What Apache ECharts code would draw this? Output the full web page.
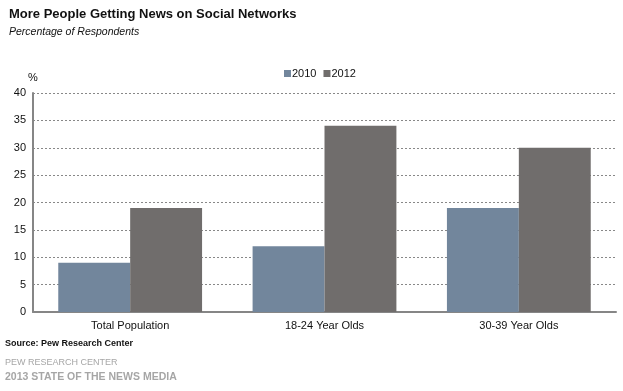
<!DOCTYPE html>
<html><head><meta charset="utf-8">
<script src="https://cdn.jsdelivr.net/npm/echarts@6/dist/echarts.min.js"></script>
<style>html,body{margin:0;padding:0;background:#fff}#c{width:623px;height:391px}</style>
</head><body><div id="c"></div>
<script>
const categories = ['Total Population', '18-24 Year Olds', '30-39 Year Olds'];
const values2010 = [9, 12, 19];
const values2012 = [19, 34, 30];
const seriesNames = ['2010', '2012'];
const yTicks = {min: 0, max: 40, interval: 5};

const F = '"Liberation Sans", Arial, sans-serif';
const chart = echarts.init(document.getElementById('c'), null, {renderer: 'canvas'});
chart.setOption({
  animation: false,
  backgroundColor: '#fff',
  title: [
    {text: 'More People Getting News on Social Networks', left: 4, top: 3,
     textStyle: {fontFamily: F, fontSize: 13, fontWeight: 'bold', color: '#111'}},
    {text: 'Percentage of Respondents', left: 4, top: 22,
     textStyle: {fontFamily: F, fontSize: 10.5, fontStyle: 'italic', fontWeight: 'normal', color: '#111'}}
  ],
  legend: {
    data: seriesNames, top: 63, left: 279, itemWidth: 7, itemHeight: 7, itemGap: 7,
    icon: 'rect', textStyle: {fontFamily: F, fontSize: 11, color: '#111', padding: [0,0,0,-4]}
  },
  grid: {left: 33, right: 7, top: 93, bottom: 79, containLabel: false},
  xAxis: {
    type: 'category', data: categories,
    axisLine: {lineStyle: {color: '#868686', width: 2}},
    axisTick: {show: false},
    axisLabel: {fontFamily: F, fontSize: 11, color: '#111', margin: 8}
  },
  yAxis: {
    type: 'value', min: yTicks.min, max: yTicks.max, interval: yTicks.interval,
    name: '%', nameLocation: 'end', nameGap: 10,
    nameTextStyle: {fontFamily: F, fontSize: 11, color: '#111', align: 'center'},
    axisLine: {show: true, lineStyle: {color: '#868686', width: 2}},
    axisTick: {show: false},
    axisLabel: {fontFamily: F, fontSize: 11, color: '#111', margin: 7},
    splitLine: {lineStyle: {color: '#888', type: [2, 2], width: 1}}
  },
  series: [
    {name: seriesNames[0], type: 'bar', data: values2010, barGap: '0%', barCategoryGap: '26%',
     itemStyle: {color: '#72869c'}},
    {name: seriesNames[1], type: 'bar', data: values2012, barGap: '0%', barCategoryGap: '26%',
     itemStyle: {color: '#706d6c'}}
  ],
  graphic: [
    {type: 'text', left: 5, top: 339, style: {text: 'Source: Pew Research Center', font: 'bold 9px ' + F, fill: '#111'}},
    {type: 'text', left: 5, top: 358, style: {text: 'PEW RESEARCH CENTER', font: '9px ' + F, fill: '#a6a6a6'}},
    {type: 'text', left: 5, top: 372, style: {text: '2013 STATE OF THE NEWS MEDIA', font: 'bold 10.5px ' + F, fill: '#a6a6a6'}}
  ]
});
</script></body></html>
